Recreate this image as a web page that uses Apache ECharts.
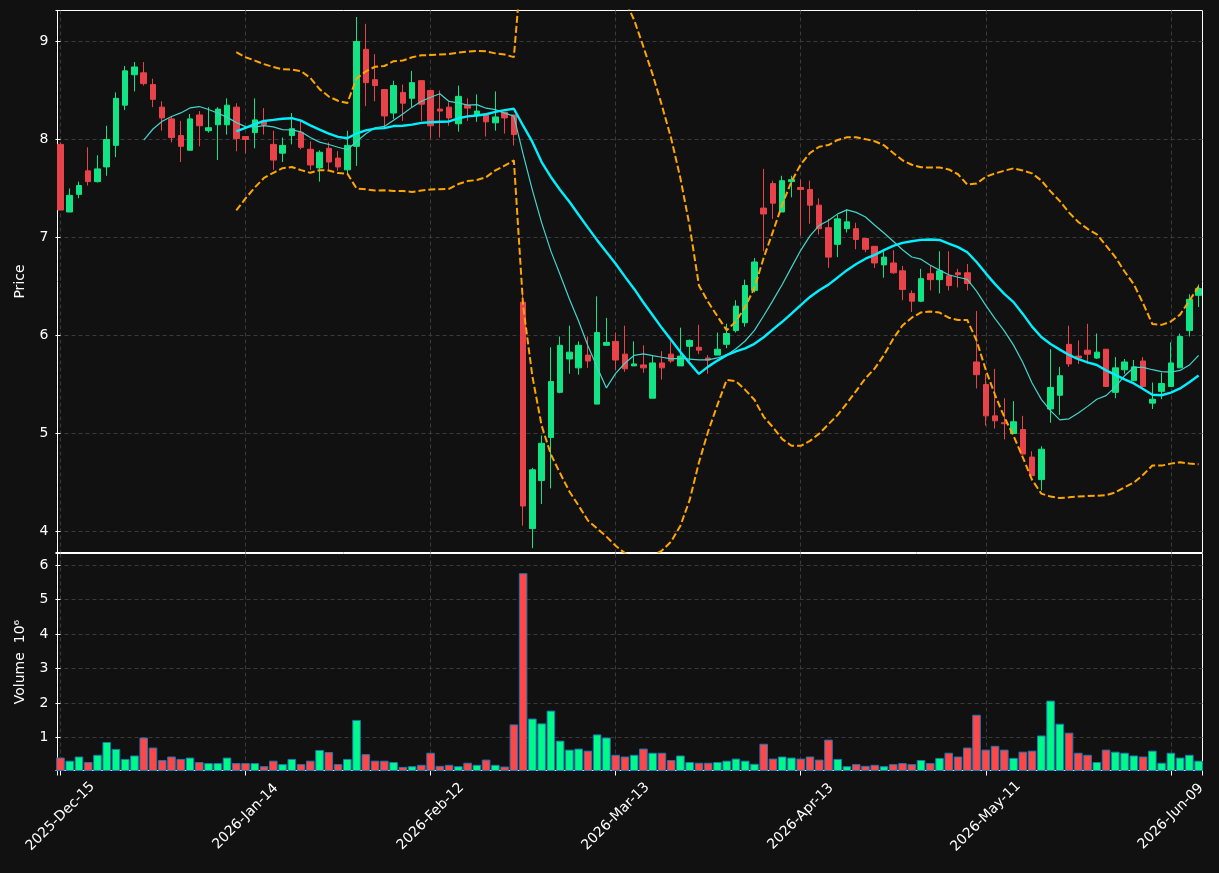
<!DOCTYPE html>
<html>
<head>
<meta charset="utf-8">
<script src="https://cdn.jsdelivr.net/npm/echarts@6/dist/echarts.min.js"></script>
<style>
html, body { margin: 0; padding: 0; background: #111111; }
#chart { width: 1219px; height: 873px; }
</style>
</head>
<body>
<div id="chart"></div>
<script>
// trading days, one candle each
var dates = [
    '2025-Dec-15', '2025-Dec-16', '2025-Dec-17', '2025-Dec-18', '2025-Dec-19', '2025-Dec-22', '2025-Dec-23', '2025-Dec-24',
    '2025-Dec-26', '2025-Dec-29', '2025-Dec-30', '2025-Dec-31',
    '2026-Jan-02', '2026-Jan-05', '2026-Jan-06', '2026-Jan-07', '2026-Jan-08', '2026-Jan-09', '2026-Jan-12', '2026-Jan-13',
    '2026-Jan-14', '2026-Jan-15', '2026-Jan-16', '2026-Jan-20', '2026-Jan-21', '2026-Jan-22', '2026-Jan-23', '2026-Jan-26',
    '2026-Jan-27', '2026-Jan-28', '2026-Jan-29', '2026-Jan-30',
    '2026-Feb-02', '2026-Feb-03', '2026-Feb-04', '2026-Feb-05', '2026-Feb-06', '2026-Feb-09', '2026-Feb-10', '2026-Feb-11',
    '2026-Feb-12', '2026-Feb-13', '2026-Feb-17', '2026-Feb-18', '2026-Feb-19', '2026-Feb-20', '2026-Feb-23', '2026-Feb-24',
    '2026-Feb-25', '2026-Feb-26', '2026-Feb-27',
    '2026-Mar-02', '2026-Mar-03', '2026-Mar-04', '2026-Mar-05', '2026-Mar-06', '2026-Mar-09', '2026-Mar-10', '2026-Mar-11',
    '2026-Mar-12', '2026-Mar-13', '2026-Mar-16', '2026-Mar-17', '2026-Mar-18', '2026-Mar-19', '2026-Mar-20', '2026-Mar-23',
    '2026-Mar-24', '2026-Mar-25', '2026-Mar-26', '2026-Mar-27', '2026-Mar-30', '2026-Mar-31',
    '2026-Apr-01', '2026-Apr-02', '2026-Apr-06', '2026-Apr-07', '2026-Apr-08', '2026-Apr-09', '2026-Apr-10', '2026-Apr-13',
    '2026-Apr-14', '2026-Apr-15', '2026-Apr-16', '2026-Apr-17', '2026-Apr-20', '2026-Apr-21', '2026-Apr-22', '2026-Apr-23',
    '2026-Apr-24', '2026-Apr-27', '2026-Apr-28', '2026-Apr-29', '2026-Apr-30',
    '2026-May-01', '2026-May-04', '2026-May-05', '2026-May-06', '2026-May-07', '2026-May-08', '2026-May-11', '2026-May-12',
    '2026-May-13', '2026-May-14', '2026-May-15', '2026-May-18', '2026-May-19', '2026-May-20', '2026-May-21', '2026-May-22',
    '2026-May-26', '2026-May-27', '2026-May-28', '2026-May-29',
    '2026-Jun-01', '2026-Jun-02', '2026-Jun-03', '2026-Jun-04', '2026-Jun-05', '2026-Jun-08', '2026-Jun-09', '2026-Jun-10',
    '2026-Jun-11', '2026-Jun-12'
];

var opens = [
    7.95, 7.26, 7.44, 7.68, 7.57, 7.72, 7.94, 8.35, 8.66, 8.68,
    8.56, 8.33, 8.21, 8.04, 7.89, 8.25, 8.09, 8.15, 8.15, 8.33,
    8.03, 8.07, 8.19, 7.95, 7.86, 8.04, 8.07, 7.90, 7.71, 7.91,
    7.81, 7.69, 7.93, 8.92, 8.61, 8.51, 8.27, 8.48, 8.42, 8.60,
    8.50, 8.31, 8.33, 8.16, 8.35, 8.25, 8.26, 8.17, 8.28, 8.25,
    6.34, 4.03, 4.52, 4.96, 5.42, 5.76, 5.67, 5.80, 5.30, 5.90,
    5.94, 5.81, 5.69, 5.70, 5.36, 5.72, 5.81, 5.69, 5.89, 5.88,
    5.77, 5.80, 5.91, 6.05, 6.13, 6.46, 7.30, 7.55, 7.26, 7.57,
    7.51, 7.49, 7.33, 7.10, 6.93, 7.09, 7.09, 6.99, 6.91, 6.72,
    6.74, 6.66, 6.43, 6.35, 6.63, 6.57, 6.61, 6.64, 6.64, 5.73,
    5.50, 5.18, 5.11, 5.00, 5.04, 4.76, 4.53, 5.25, 5.39, 5.91,
    5.79, 5.85, 5.77, 5.86, 5.42, 5.65, 5.54, 5.74, 5.31, 5.43,
    5.48, 5.67, 6.05, 6.41
];
var highs = [
    7.97, 7.50, 7.57, 7.92, 7.84, 8.14, 8.48, 8.75, 8.79, 8.79,
    8.62, 8.39, 8.24, 8.19, 8.26, 8.29, 8.33, 8.33, 8.42, 8.37,
    8.03, 8.42, 8.32, 8.09, 8.02, 8.27, 8.19, 7.98, 7.89, 7.97,
    7.88, 8.09, 9.25, 9.18, 8.87, 8.51, 8.60, 8.56, 8.70, 8.60,
    8.50, 8.50, 8.38, 8.55, 8.42, 8.46, 8.26, 8.49, 8.28, 8.25,
    6.48, 4.65, 4.98, 5.88, 5.99, 6.10, 5.94, 5.99, 6.40, 6.18,
    6.03, 6.10, 5.94, 5.90, 5.79, 5.84, 5.94, 6.08, 5.96, 6.11,
    5.80, 6.03, 6.12, 6.36, 6.57, 6.79, 7.70, 7.58, 7.63, 7.63,
    7.59, 7.58, 7.40, 7.19, 7.23, 7.29, 7.15, 6.99, 6.91, 6.86,
    6.87, 6.71, 6.46, 6.68, 6.71, 6.86, 6.86, 6.68, 6.73, 6.25,
    5.61, 5.66, 5.36, 5.33, 5.18, 4.82, 4.87, 5.86, 5.68, 6.10,
    5.95, 6.12, 6.02, 5.86, 5.78, 5.76, 5.75, 5.78, 5.52, 5.62,
    5.93, 6.02, 6.42, 6.52
];
var lows = [
    7.28, 7.26, 7.40, 7.53, 7.56, 7.63, 7.82, 8.30, 8.49, 8.55,
    8.33, 8.09, 7.97, 7.77, 7.89, 7.93, 8.07, 7.79, 8.05, 7.88,
    7.86, 7.91, 8.05, 7.69, 7.77, 7.95, 7.90, 7.69, 7.57, 7.69,
    7.68, 7.65, 7.73, 8.34, 8.39, 8.11, 8.21, 8.19, 8.33, 8.19,
    8.01, 8.02, 8.14, 8.08, 8.19, 8.18, 8.03, 8.09, 8.06, 7.94,
    4.06, 3.83, 4.28, 4.44, 5.41, 5.61, 5.60, 5.67, 5.30, 5.90,
    5.65, 5.63, 5.69, 5.62, 5.36, 5.55, 5.72, 5.69, 5.74, 5.81,
    5.61, 5.80, 5.87, 6.03, 6.09, 6.44, 6.86, 7.19, 7.26, 7.41,
    7.02, 7.14, 7.03, 6.69, 6.80, 7.05, 6.88, 6.85, 6.69, 6.59,
    6.63, 6.36, 6.24, 6.34, 6.46, 6.43, 6.46, 6.49, 6.46, 5.46,
    5.08, 5.05, 4.94, 5.00, 4.79, 4.57, 4.42, 5.11, 5.19, 5.68,
    5.71, 5.71, 5.76, 5.48, 5.36, 5.61, 5.54, 5.46, 5.25, 5.35,
    5.48, 5.67, 5.99, 6.29
];
var closes = [
    7.28, 7.43, 7.53, 7.57, 7.70, 8.00, 8.42, 8.70, 8.74, 8.57,
    8.41, 8.22, 8.02, 7.93, 8.21, 8.14, 8.12, 8.31, 8.35, 8.01,
    8.00, 8.20, 8.15, 7.79, 7.94, 8.11, 7.92, 7.74, 7.87, 7.77,
    7.72, 7.94, 9.00, 8.58, 8.55, 8.24, 8.55, 8.37, 8.58, 8.36,
    8.14, 8.29, 8.22, 8.44, 8.32, 8.29, 8.18, 8.23, 8.22, 8.05,
    4.26, 4.63, 4.90, 5.53, 5.90, 5.83, 5.90, 5.74, 6.03, 5.93,
    5.75, 5.66, 5.71, 5.67, 5.72, 5.67, 5.74, 5.79, 5.95, 5.85,
    5.75, 5.86, 6.02, 6.30, 6.51, 6.75, 7.24, 7.35, 7.58, 7.59,
    7.49, 7.33, 7.09, 6.80, 7.19, 7.16, 6.98, 6.88, 6.74, 6.80,
    6.64, 6.47, 6.35, 6.58, 6.57, 6.66, 6.51, 6.62, 6.53, 5.60,
    5.18, 5.13, 5.10, 5.12, 4.79, 4.57, 4.84, 5.47, 5.59, 5.71,
    5.77, 5.81, 5.83, 5.48, 5.67, 5.73, 5.68, 5.48, 5.35, 5.51,
    5.72, 5.99, 6.37, 6.48
];
// millions of shares
var volumes = [
    0.42, 0.33, 0.45, 0.29, 0.50, 0.87, 0.67, 0.38, 0.48, 1.00,
    0.71, 0.35, 0.45, 0.38, 0.42, 0.29, 0.26, 0.26, 0.42, 0.26,
    0.26, 0.26, 0.17, 0.33, 0.23, 0.38, 0.23, 0.33, 0.64, 0.58,
    0.23, 0.38, 1.51, 0.52, 0.33, 0.33, 0.29, 0.15, 0.17, 0.21,
    0.56, 0.18, 0.21, 0.17, 0.27, 0.21, 0.36, 0.21, 0.16, 1.38,
    5.76, 1.55, 1.41, 1.78, 0.91, 0.65, 0.68, 0.62, 1.09, 1.00,
    0.50, 0.45, 0.50, 0.68, 0.56, 0.56, 0.35, 0.48, 0.29, 0.27,
    0.27, 0.29, 0.33, 0.39, 0.33, 0.24, 0.82, 0.39, 0.45, 0.42,
    0.39, 0.45, 0.36, 0.94, 0.38, 0.17, 0.23, 0.18, 0.21, 0.17,
    0.23, 0.26, 0.23, 0.35, 0.26, 0.41, 0.56, 0.45, 0.71, 1.66,
    0.65, 0.76, 0.65, 0.41, 0.59, 0.62, 1.06, 2.07, 1.40, 1.14,
    0.56, 0.50, 0.29, 0.65, 0.59, 0.56, 0.48, 0.45, 0.62, 0.27,
    0.56, 0.42, 0.50, 0.33
];

var upColor = '#12e384';
var downColor = '#e8434a';
var volUp = '#00fa8a';
var volDown = '#ff4747';
var gridColor = '#3a3a3a';

function movingAverage(period) {
    var res = [];
    for (var i = period - 1; i < closes.length; i++) {
        var sum = 0;
        for (var j = i - period + 1; j <= i; j++) {
            sum += closes[j];
        }
        res.push([i, sum / period]);
    }
    return res;
}

// bollinger band, k standard deviations around the 20 day mean
function bollinger(period, k) {
    var res = [];
    for (var i = period - 1; i < closes.length; i++) {
        var sum = 0;
        for (var j = i - period + 1; j <= i; j++) sum += closes[j];
        var mean = sum / period;
        var sq = 0;
        for (j = i - period + 1; j <= i; j++) sq += (closes[j] - mean) * (closes[j] - mean);
        res.push([i, mean + k * Math.sqrt(sq / period)]);
    }
    return res;
}

var candleData = [];
var volumeData = [];
for (var i = 0; i < dates.length; i++) {
    candleData.push([i, opens[i], closes[i], lows[i], highs[i]]);
    volumeData.push({
        value: [i, volumes[i]],
        itemStyle: {color: closes[i] >= opens[i] ? volUp : volDown}
    });
}

function isWhole(v) {
    return Math.abs(v - Math.round(v)) < 1e-6;
}

var xMin = -0.32, xMax = 123.42;
var splitStyle = {
    show: true,
    showMinLine: false,
    showMaxLine: false,
    lineStyle: {color: gridColor, type: [4, 3], width: 1}
};

var option = {
    backgroundColor: '#111111',
    animation: false,
    textStyle: {fontFamily: 'DejaVu Sans', color: '#ffffff'},
    grid: [
        {left: 57.5, right: 16.5, top: 10.5, height: 542, show: true, borderColor: '#ffffff', borderWidth: 1,
            backgroundColor: 'transparent', outerBoundsMode: 'none'},
        {left: 57.5, right: 16.5, top: 553.5, height: 217, show: true, borderColor: '#ffffff', borderWidth: 1,
            backgroundColor: 'transparent', outerBoundsMode: 'none'}
    ],
    xAxis: [
        {
            type: 'value', gridIndex: 0, min: xMin, max: xMax, splitNumber: 6,
            axisLine: {show: false}, axisTick: {show: false}, axisLabel: {show: false},
            splitLine: splitStyle
        },
        {
            type: 'value', gridIndex: 1, min: xMin, max: xMax, splitNumber: 6,
            axisLine: {show: false},
            axisTick: {show: true, length: 5, lineStyle: {color: '#ffffff'}},
            axisLabel: {
                color: '#ffffff', fontSize: 14, rotate: 45, margin: 46,
                align: 'center', verticalAlign: 'middle',
                formatter: function (v) {
                    return (v >= 0 && isWhole(v) && Math.round(v) % 20 === 0) ? dates[Math.round(v)] : '';
                }
            },
            splitLine: splitStyle
        }
    ],
    yAxis: [
        {
            type: 'value', gridIndex: 0, min: 3.786, max: 9.316, splitNumber: 5,
            name: 'Price', nameLocation: 'middle', nameGap: 30, nameRotate: 90,
            nameTextStyle: {color: '#ffffff', fontSize: 14},
            axisLine: {show: false},
            axisTick: {show: true, length: 5, lineStyle: {color: '#ffffff'}},
            axisLabel: {
                color: '#ffffff', fontSize: 14, margin: 9,
                formatter: function (v) { return isWhole(v) ? String(Math.round(v)) : ''; }
            },
            splitLine: splitStyle
        },
        {
            type: 'value', gridIndex: 1, min: 0.045, max: 6.33, splitNumber: 6,
            name: 'Volume  10\u2076', nameLocation: 'middle', nameGap: 30, nameRotate: 90,
            nameTextStyle: {color: '#ffffff', fontSize: 14},
            axisLine: {show: false},
            axisTick: {show: true, length: 5, lineStyle: {color: '#ffffff'}},
            axisLabel: {
                color: '#ffffff', fontSize: 14, margin: 9,
                formatter: function (v) { return isWhole(v) ? String(Math.round(v)) : ''; }
            },
            splitLine: splitStyle
        }
    ],
    series: [
        {
            name: 'Price', type: 'candlestick', xAxisIndex: 0, yAxisIndex: 0,
            data: candleData,
            barWidth: 6,
            itemStyle: {
                color: upColor, color0: downColor,
                borderColor: upColor, borderColor0: downColor,
                borderColorDoji: downColor, borderWidth: 1
            }
        },
        {
            name: 'MA10', type: 'line', xAxisIndex: 0, yAxisIndex: 0,
            data: movingAverage(10), symbol: 'none',
            lineStyle: {color: '#44d4cc', width: 1.2}
        },
        {
            name: 'MA20', type: 'line', xAxisIndex: 0, yAxisIndex: 0,
            data: movingAverage(20), symbol: 'none',
            lineStyle: {color: '#00f0ff', width: 2.4}
        },
        {
            name: 'Upper', type: 'line', xAxisIndex: 0, yAxisIndex: 0,
            data: bollinger(20, 2), symbol: 'none', clip: true,
            lineStyle: {color: '#ffa500', width: 2, type: [7, 3]}
        },
        {
            name: 'Lower', type: 'line', xAxisIndex: 0, yAxisIndex: 0,
            data: bollinger(20, -2), symbol: 'none', clip: true,
            lineStyle: {color: '#ffa500', width: 2, type: [7, 3]}
        },
        {
            name: 'Volume', type: 'bar', xAxisIndex: 1, yAxisIndex: 1,
            data: volumeData, barWidth: 8.6,
            itemStyle: {borderColor: '#1f77b4', borderWidth: 1}
        }
    ]
};

var myChart = echarts.init(document.getElementById('chart'));
myChart.setOption(option);
</script>
</body>
</html>
